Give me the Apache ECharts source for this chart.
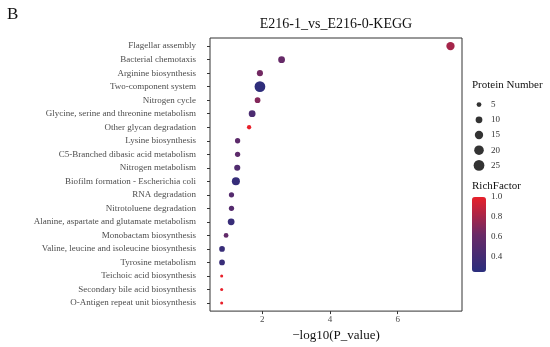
<!DOCTYPE html>
<html>
<head>
<meta charset="utf-8">
<script src="https://cdn.jsdelivr.net/npm/echarts@6/dist/echarts.min.js"></script>
<style>html,body{margin:0;padding:0;background:#fff}#c{width:550px;height:347px}</style>
</head>
<body>
<div id="c"></div>
<script>
// ---- data ----
const pathways = [
  "Flagellar assembly","Bacterial chemotaxis","Arginine biosynthesis","Two-component system",
  "Nitrogen cycle","Glycine, serine and threonine metabolism","Other glycan degradation",
  "Lysine biosynthesis","C5-Branched dibasic acid metabolism","Nitrogen metabolism",
  "Biofilm formation - Escherichia coli","RNA degradation","Nitrotoluene degradation",
  "Alanine, aspartate and glutamate metabolism","Monobactam biosynthesis",
  "Valine, leucine and isoleucine biosynthesis","Tyrosine metabolism",
  "Teichoic acid biosynthesis","Secondary bile acid biosynthesis","O-Antigen repeat unit biosynthesis"
];
const negLog10P = [7.56,2.57,1.93,1.93,1.86,1.70,1.61,1.27,1.27,1.26,1.22,1.09,1.09,1.08,0.93,0.81,0.81,0.80,0.80,0.80];
const proteinNumber = [15,10,8,25,7,10,4,6,6,8,14,6,6,10,5,7,7,2,2,2];
const richFactor = [0.80,0.60,0.65,0.28,0.70,0.45,1.00,0.55,0.55,0.48,0.32,0.50,0.50,0.33,0.58,0.33,0.33,1.00,1.00,1.00];
const xTicks = [2,4,6];
const sizeLegendValues = [5,10,15,20,25];
const colorTicks = [0.4,0.6,0.8,1.0];

const FONT = 'Liberation Serif';
const sizeOf = n => 2.15 * Math.sqrt(n);
const rowIdx = pathways.map((_, i) => i);

const chart = echarts.init(document.getElementById('c'), null, {renderer: 'canvas'});
chart.setOption({
  animation: false,
  backgroundColor: '#fff',
  textStyle: {fontFamily: FONT},
  title: [
    {text: 'B', left: 7, top: 6, padding: 0,
     textStyle: {fontFamily: FONT, fontSize: 17, fontWeight: 'normal', color: '#111'}},
    {text: 'E216-1_vs_E216-0-KEGG', left: 336, textAlign: 'center', top: 17, padding: 0,
     textStyle: {fontFamily: FONT, fontSize: 14, fontWeight: 'normal', color: '#111'}},
    {text: 'Protein Number', left: 472, top: 80, padding: 0,
     textStyle: {fontFamily: FONT, fontSize: 11, fontWeight: 'normal', color: '#111'}},
    {text: 'RichFactor', left: 472, top: 181, padding: 0,
     textStyle: {fontFamily: FONT, fontSize: 11, fontWeight: 'normal', color: '#111'}}
  ],
  grid: [
    {left: 210, top: 38, width: 252, height: 278, show: true, borderColor: '#333', borderWidth: 1, backgroundColor: '#fff'},
    {left: 473, top: 97, width: 12, height: 76},
    {left: 472, top: 197, width: 14, height: 75}
  ],
  xAxis: [
    {gridIndex: 0, type: 'value', min: 0.455, max: 7.9, position: 'bottom',
     name: '\u2212log10(P_value)', nameLocation: 'middle', nameGap: 15,
     nameTextStyle: {fontFamily: FONT, fontSize: 13, color: '#111'},
     axisLine: {show: false, onZero: false}, splitLine: {show: false},
     axisTick: {show: true, customValues: xTicks, length: 3, lineStyle: {color: '#333'}},
     axisLabel: {customValues: xTicks, fontFamily: FONT, fontSize: 9, color: '#4d4d4d', margin: 4}},
    {gridIndex: 1, type: 'value', show: false, min: 0, max: 1},
    {gridIndex: 2, type: 'value', show: false, min: 0, max: 1}
  ],
  yAxis: [
    {gridIndex: 0, type: 'value', inverse: true, min: -0.6, max: pathways.length - 0.4,
     axisLine: {show: false, onZero: false}, splitLine: {show: false},
     axisTick: {show: true, customValues: rowIdx, length: 3, lineStyle: {color: '#333'}},
     axisLabel: {customValues: rowIdx, formatter: v => pathways[Math.round(v)],
                 fontFamily: FONT, fontSize: 9, color: '#4d4d4d', margin: 14}},
    {gridIndex: 1, type: 'category', inverse: true, position: 'right',
     data: sizeLegendValues.map(String),
     axisLine: {show: false}, axisTick: {show: false}, splitLine: {show: false},
     axisLabel: {fontFamily: FONT, fontSize: 9, color: '#333', margin: 6}},
    {gridIndex: 2, type: 'value', position: 'right', min: 0.25, max: 1.0,
     axisLine: {show: false}, splitLine: {show: false},
     axisTick: {show: true, inside: true, customValues: colorTicks, length: 3, lineStyle: {color: '#fff'}},
     axisLabel: {customValues: colorTicks, formatter: v => v.toFixed(1),
                 fontFamily: FONT, fontSize: 9, color: '#333', margin: 5}}
  ],
  visualMap: {
    type: 'continuous', seriesIndex: 0, dimension: 2, min: 0.25, max: 1.0,
    calculable: false, left: 472, top: 197, itemWidth: 14, itemHeight: 75, padding: 0,
    text: null, inRange: {color: ['#2a2e7d', '#6a2a66', '#e8202a']},
    hoverLink: false
  },
  series: [
    {type: 'scatter', xAxisIndex: 0, yAxisIndex: 0, z: 5,
     data: pathways.map((p, i) => [negLog10P[i], i, richFactor[i], proteinNumber[i]]),
     symbolSize: d => sizeOf(d[3]), itemStyle: {opacity: 1}},
    {type: 'scatter', xAxisIndex: 1, yAxisIndex: 1,
     data: sizeLegendValues.map((v, i) => [0.5, i, v]),
     symbolSize: d => sizeOf(d[2]), itemStyle: {color: '#000'}}
  ]
});
</script>
</body>
</html>
